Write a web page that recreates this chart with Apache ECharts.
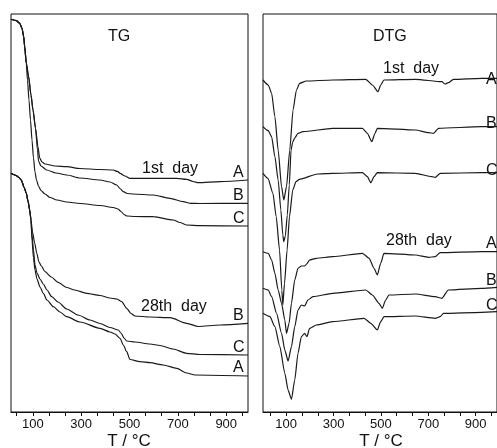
<!DOCTYPE html>
<html><head><meta charset="utf-8">
<script src="https://cdn.jsdelivr.net/npm/echarts@6/dist/echarts.min.js"></script>
<style>html,body{margin:0;padding:0;background:#fff}#c{width:497px;height:448px}</style>
</head><body><div id="c"></div><script>
// x ticks (°C) and labels
var tickValues = [33.33,100,166.67,233.33,300,366.67,433.33,500,566.67,633.33,700,766.67,833.33,900,966.67];
var tickLabels = [100,300,500,700,900];

// TG curves [T(°C), relative mass (arbitrary offset units)]
var tg1A = [[10,392.7],[32,391.3],[46,388.7],[55.5,383.7],[62.5,375.3],[66.6,365.3],[73.3,348.7],[82.4,336],[92.7,317],[101,302],[111.3,284],[121.6,265],[128.7,254],[138.2,250],[150.6,248],[192,246],[240.3,245.3],[295.3,243.5],[378,242.5],[431.8,242],[452.4,240.3],[460.7,238.7],[481.4,236],[502,233.7],[584.8,233.7],[695.2,233.7],[736.5,232.7],[762.6,230.5],[784.5,229.3],[874.2,230.3],[990,232]];
var tg1B = [[10,392.7],[32,391.3],[46,388.7],[55.5,383.7],[62.5,375.3],[66.6,365.3],[73.3,348.7],[82.4,336],[92.7,317],[101,302],[111.3,284],[119.6,262],[123.7,251],[134,246],[157.6,242],[196,239],[240.3,237],[295.3,234],[378,232],[419.4,230],[447.1,227],[460.7,223.5],[474.4,220.3],[489.7,218.5],[515.7,218],[598.4,217],[667.5,213.7],[722.5,210.3],[750.2,208.7],[791.5,208.5],[990,208.7]];
var tg1C = [[10,392.7],[32,391.3],[46,388.7],[55.5,383.7],[62.5,375.3],[66.6,365.3],[73.3,348.7],[78.2,332],[84.4,312],[90.6,292],[96.8,272],[103,254],[109.2,240],[115.4,232],[123.7,226],[134,221.5],[150.6,218],[171.3,214.5],[200.2,212],[240.3,210],[295.3,208.5],[378,206.5],[433,204.5],[452.4,203],[464.9,200.5],[477.3,197.5],[489.7,196],[522.8,195.5],[598.4,195.3],[681.1,192],[708.8,189.5],[736.5,187],[791.5,186.3],[990,186]];
var tg28A = [[10,238.7],[20.3,237.5],[31.9,236.3],[43.1,234.5],[52.6,232],[63.8,225],[73.3,218.7],[80.3,211],[87.3,202],[92.7,192],[96.8,172],[103,154],[109.2,142],[117.5,133],[129.9,125],[143.6,118.7],[158.9,112],[185,105.3],[212.6,100],[240.3,95.3],[295.3,90],[378,83.7],[419.4,80],[440.1,78],[460.7,73.7],[474.4,67],[488.4,60.3],[502,52.5],[543.4,50.3],[584.8,49.3],[639.8,47],[695.2,43.7],[736.5,39],[770.8,37],[990,36]];
var tg28B = [[10,238.7],[20.3,237.5],[31.9,236.3],[43.1,234.5],[52.6,232],[63.8,225],[73.3,218.7],[80.3,211],[87.3,202],[92.7,192],[98.9,180],[108,169],[116.3,159],[125.8,150],[135.3,146],[150.6,140.3],[176.6,135],[204.3,129.7],[240.3,124.5],[273.4,122],[323,118.7],[378,116.5],[419.4,114],[447.1,113],[467.7,110.3],[488.4,103.7],[506.2,98.5],[522.7,96],[584.8,95],[667.5,94.3],[736.5,88.7],[784.5,85.5],[874.2,87],[990,88.7]];
var tg28C = [[10,238.7],[20.3,237.5],[31.9,236.3],[43.1,234.5],[52.6,232],[63.8,225],[73.3,218.7],[80.3,211],[87.3,202],[92.7,192],[96.8,177],[103,162],[109.2,147],[117.5,139],[129.9,133],[143.6,128],[158.9,122],[178.3,115.3],[204.3,110],[240.3,103],[287,97],[336.7,92],[378,88.5],[419.4,84.5],[453.7,82],[464.9,79],[477.3,74],[488.4,71],[522.7,70],[584.8,68],[626.1,66.5],[679.9,63],[736.5,58.7],[791.5,57.5],[990,57]];

// DTG curves [T(°C), DTG (arbitrary offset units)]
var dtg1A = [[2,332],[24.2,327],[38.4,318.7],[52.2,295.3],[66,262],[80.3,225.3],[89.9,212],[101.2,225.3],[115,262],[128.8,302],[143.1,322],[156.9,328.7],[184.9,331],[296.3,332],[436.1,332.7],[463.8,327],[487.6,320.3],[498.9,327],[512.7,332],[645.4,332.7],[756.8,330.3],[771,328],[784.8,329.3],[805.8,332.7],[924.3,333.7],[990,333.7]];
var dtg1B = [[2,285.3],[24.2,281.3],[38.4,275.3],[52.2,255.3],[66,232],[77.4,202],[85.7,177],[89.9,170.3],[96.2,176],[104.6,197],[112.9,227],[120.5,262],[127.6,270],[136,274],[149.8,278.7],[170.7,280.3],[296.3,283.7],[421.9,283.7],[442.8,278.7],[461.3,270.3],[475.1,278.7],[484.7,283.7],[645.4,282],[701.1,279.3],[722,278.7],[743,283.7],[924.3,285.3],[990,285.3]];
var dtg1C = [[2,238.7],[22.9,233.7],[43.9,218.7],[57.7,195.3],[71.9,162],[81.5,122],[85.7,107],[92.8,128.7],[103.7,162],[113.8,195.3],[127.6,222],[141.4,230.3],[155.6,232.7],[232.3,238],[296.3,238.7],[421.9,239.3],[442.8,235.3],[457.1,229.3],[470.9,235.3],[484.7,239.3],[645.4,238.7],[714.9,235.3],[729.2,234.7],[750.1,238.7],[924.3,239.3],[990,239.3]];
var dtg28A = [[2,160.3],[24.2,158.7],[38.4,152],[52.2,138.7],[66,122],[80.3,108.7],[94.1,92],[101.2,78.7],[112.1,88.7],[122.1,108.7],[136,132],[149.8,143.7],[164,146],[177.8,146],[186.2,148],[198.8,152],[226.8,153.7],[296.3,155.3],[421.9,158.7],[450,153.7],[470.9,143.7],[484.7,137],[498.9,148.7],[512.7,158.7],[645.4,157],[701.1,154.7],[729.2,155.3],[750.1,159.3],[924.3,160.3],[990,160.3]];
var dtg28B = [[2,123.7],[24.2,122],[38.4,115.3],[59.4,98.7],[80.3,78.7],[94.1,62],[107.9,51],[122.1,65.3],[136,85.3],[149.8,102],[164,107],[177.8,106],[191.6,112],[212.6,115.3],[296.3,118.7],[436.1,122],[463.8,117],[491.8,108.7],[505.6,103.7],[519.9,112],[533.7,117],[645.4,118],[729.2,115.3],[756.8,113.7],[784.8,122],[924.3,123.7],[990,124.7]];
var dtg28C = [[2,98.7],[31.3,95.3],[52.2,85.3],[73.2,65.3],[94.1,38.7],[107.9,22],[122.1,12.7],[136,32],[149.8,58.7],[164,75.3],[177.8,78.7],[187.5,75.3],[198.8,83.7],[226.8,87],[296.3,90.3],[429,93.7],[457.1,88.7],[484.7,82],[498.9,90.3],[512.7,95.3],[645.4,96],[729.2,93.7],[750.1,95.3],[763.9,98.7],[924.3,99.7],[990,100.3]];

var FONT = '"Liberation Sans", Arial, sans-serif';
var INK = '#111';

function xAx(idx, min, max) {
  return {
    type: 'value', gridIndex: idx, min: min, max: max,
    axisLine: { show: true, lineStyle: { color: INK, width: 1 } },
    axisTick: { show: true, inside: false, length: 4, lineStyle: { color: INK }, customValues: tickValues },
    axisLabel: { show: true, customValues: tickLabels, margin: 6, color: INK, fontSize: 13, fontFamily: FONT },
    splitLine: { show: false }
  };
}
function yAx(idx) {
  return { type: 'value', gridIndex: idx, min: 0, max: 398, show: false, splitLine: { show: false } };
}
function ser(data, idx, sm) {
  return {
    type: 'line', data: data, xAxisIndex: idx, yAxisIndex: idx,
    symbol: 'none', smooth: sm, smoothMonotone: 'x',
    lineStyle: { color: '#1a1a1a', width: 1.2 }, silent: true
  };
}
function txt(s, x, y, size, align) {
  return { type: 'text', x: x, y: y, silent: true,
    style: { text: s, fill: INK, font: size + 'px ' + FONT, align: align || 'left', verticalAlign: 'middle' } };
}

var chart = echarts.init(document.getElementById('c'), null, { renderer: 'canvas' });
chart.setOption({
  animation: false,
  backgroundColor: '#fff',
  grid: [
    { left: 11, top: 14, width: 237, height: 398, show: true, borderColor: INK, borderWidth: 1, backgroundColor: 'transparent' },
    { left: 263, top: 14, width: 236, height: 398, show: true, borderColor: INK, borderWidth: 1, backgroundColor: 'transparent' }
  ],
  xAxis: [xAx(0, 10, 990), xAx(1, 2, 990)],
  yAxis: [yAx(0), yAx(1)],
  series: [
    ser(tg1A, 0, 0.25), ser(tg1B, 0, 0.25), ser(tg1C, 0, 0.25),
    ser(tg28A, 0, 0.25), ser(tg28B, 0, 0.25), ser(tg28C, 0, 0.25),
    ser(dtg1A, 1, 0.2), ser(dtg1B, 1, 0.2), ser(dtg1C, 1, 0.2),
    ser(dtg28A, 1, 0.2), ser(dtg28B, 1, 0.2), ser(dtg28C, 1, 0.2)
  ],
  graphic: [
    txt('TG', 108, 37, 16), txt('DTG', 373, 37, 16),
    txt('1st  day', 142, 168.5, 16), txt('28th  day', 141, 306.5, 16),
    txt('A', 233, 172.5, 16), txt('B', 233, 196, 16), txt('C', 233, 219, 16),
    txt('B', 233, 316, 16), txt('C', 233, 347.5, 16), txt('A', 233, 367.5, 16),
    txt('1st  day', 383, 69, 16), txt('28th  day', 386, 241, 16),
    txt('A', 486, 79.5, 16), txt('B', 486, 124, 16), txt('C', 486, 171, 16),
    txt('A', 486, 244, 16), txt('B', 486, 281, 16), txt('C', 486, 306, 16),
    txt('T / °C', 129, 441, 17, 'center'), txt('T / °C', 381, 441, 17, 'center')
  ]
});
</script></body></html>
